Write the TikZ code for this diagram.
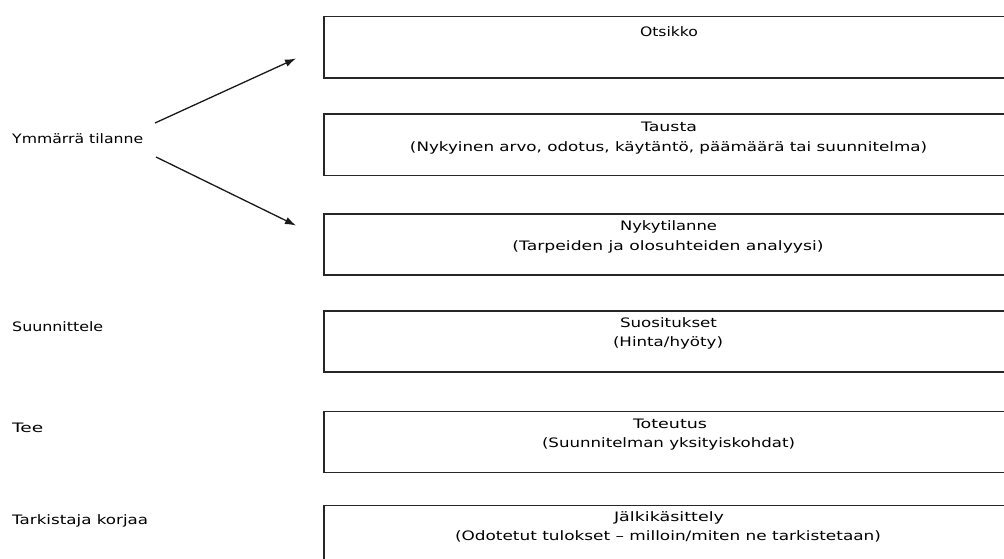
\documentclass[tikz,border=0pt]{standalone}
\usepackage{fontspec}
\setmainfont{DejaVu Sans}
\usepackage{graphicx}
\usetikzlibrary{arrows.meta}
\newcommand{\fitw}[2]{\resizebox{#1pt}{\height}{#2}}
\tikzset{
  lbl/.style={inner sep=0pt, font=\fontsize{13}{15}\selectfont, text height=9.5pt, text depth=2.5pt, text=black},
  stagebox/.style={draw=black!85, line width=1.5pt, fill=none, inner sep=0pt, anchor=north west, minimum width=691pt, minimum height=61.2pt},
  arr/.style={draw=black!90, line width=1.3pt, -{Latex[length=11pt,width=7.5pt]}}
}
\begin{document}
\begin{tikzpicture}[x=1pt,y=-1pt]
\useasboundingbox (0,0) rectangle (1004,559);
\clip (0,0) rectangle (1004,559);
\fill[white] (0,0) rectangle (1004,559);

% boxes
\node[stagebox] (b1) at (323,16) {};
\node[stagebox] (b2) at (323,113.4) {};
\node[stagebox] (b3) at (323,213.2) {};
\node[stagebox] (b4) at (323,310.2) {};
\node[stagebox] (b5) at (323,410.7) {};
\node[stagebox] (b6) at (323,504.5) {};

% box texts
\node[lbl] (t1) at (669,33) {\fitw{58}{Otsikko}};
\node[lbl] (t2a) at (669,128) {\fitw{56}{Tausta}};
\node[lbl] (t2b) at (668.5,148) {\fitw{517}{(Nykyinen arvo, odotus, käytäntö, päämäärä tai suunnitelma)}};
\node[lbl] (t3a) at (668.5,227) {\fitw{97}{Nykytilanne}};
\node[lbl] (t3b) at (668,247) {\fitw{311}{(Tarpeiden ja olosuhteiden analyysi)}};
\node[lbl] (t4a) at (668.5,324) {\fitw{97}{Suositukset}};
\node[lbl] (t4b) at (668,343) {\fitw{110}{(Hinta/hyöty)}};
\node[lbl] (t5a) at (670,425) {\fitw{74}{Toteutus}};
\node[lbl] (t5b) at (668.5,444) {\fitw{253}{(Suunnitelman yksityiskohdat)}};
\node[lbl] (t6a) at (669,518) {\fitw{110}{Jälkikäsittely}};
\node[lbl] (t6b) at (668,537) {\fitw{426}{(Odotetut tulokset – milloin/miten ne tarkistetaan)}};

% left labels
\node[lbl, anchor=west] (l1) at (12,140) {\fitw{131}{Ymmärrä tilanne}};
\node[lbl, anchor=west] (l2) at (12,328) {\fitw{91}{Suunnittele}};
\node[lbl, anchor=west] (l3) at (12,429) {\fitw{31}{Tee}};
\node[lbl, anchor=west] (l4) at (12,521) {\fitw{136}{Tarkistaja korjaa}};

% arrows
\coordinate (a1s) at (155,123);
\coordinate (a1e) at (296,58.5);
\coordinate (a2s) at (156,157);
\coordinate (a2e) at (296,225.5);
\draw[arr] (a1s) -- (a1e);
\draw[arr] (a2s) -- (a2e);
\end{tikzpicture}
\end{document}
